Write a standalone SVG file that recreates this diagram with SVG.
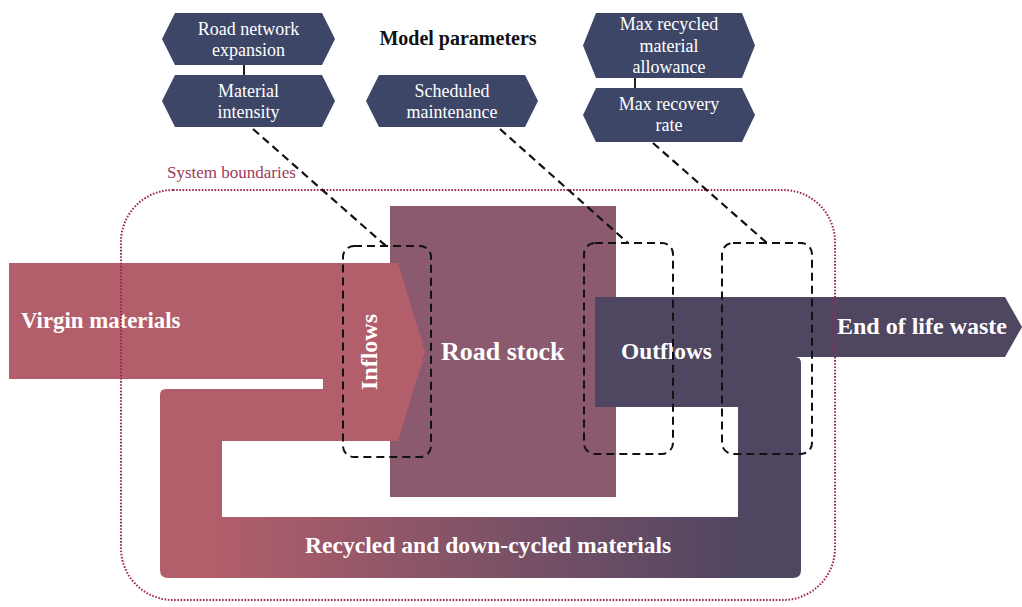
<svg xmlns="http://www.w3.org/2000/svg" width="1022" height="607" viewBox="0 0 1022 607">
  <style>
    .param { fill: #3e4668; }
    .ptext { font-family: "Liberation Serif", "Times New Roman", serif; font-size: 18px; fill: #ffffff; text-anchor: middle; }
    .flowtext { font-family: "Liberation Serif", "Times New Roman", serif; font-weight: bold; fill: #ffffff; }
    .dashbox { fill: none; stroke: #111111; stroke-width: 2; stroke-dasharray: 8 5; }
    .dashline { fill: none; stroke: #111111; stroke-width: 2.2; stroke-dasharray: 8 5; }
    .link { stroke: #222222; stroke-width: 2; }
  </style>
  <defs>
    <linearGradient id="loopGrad" gradientUnits="userSpaceOnUse" x1="210" y1="0" x2="745" y2="0">
      <stop offset="0" stop-color="#b35f6b"/>
      <stop offset="1" stop-color="#4f4662"/>
    </linearGradient>
  </defs>
  <rect width="1022" height="607" fill="#ffffff"/>

  <!-- recycled / down-cycled return loop -->
  <g id="recycled-loop">
    <path d="M160,441 V570 Q160,578 168,578 H793 Q801,578 801,570 V363 Q801,357 795,357 H738 V517 H222 V441 Z" fill="url(#loopGrad)"/>
    <text class="flowtext" x="305" y="553" font-size="23.6">Recycled and down-cycled materials</text>
  </g>

  <!-- stock -->
  <g id="road-stock">
    <rect x="390" y="206" width="226" height="291" fill="#8b5a6f"/>
    <text class="flowtext" x="441" y="360" font-size="26">Road stock</text>
  </g>

  <!-- inflows: virgin materials plus the recycled arm -->
  <g id="inflows">
    <path d="M9,263 H398 L425,352 L398,441 H160 V395 Q160,389 166,389 H323 V379 H9 Z" fill="#b35f6b"/>
    <text class="flowtext" x="21" y="328" font-size="22.8">Virgin materials</text>
  </g>

  <!-- outflows and end of life waste -->
  <g id="outflows">
    <path d="M595,297 H1005 L1022,327 L1005,357 H738 V407 H595 Z" fill="#4f4662"/>
    <text class="flowtext" x="621" y="359" font-size="23.4">Outflows</text>
    <text class="flowtext" x="837" y="334" font-size="24">End of life waste</text>
  </g>

  <!-- system boundary -->
  <g id="system-boundary">
    <rect x="121" y="190" width="714" height="410" rx="52" ry="52" fill="none" stroke="#a0284f" stroke-width="2" stroke-dasharray="1.6 1.6"/>
    <text x="167" y="178" font-family="Liberation Serif, Times New Roman, serif" font-size="17" fill="#a03a5c">System boundaries</text>
  </g>

  <!-- flow control regions -->
  <g id="inflow-region">
    <rect class="dashbox" x="343" y="246" width="88" height="211" rx="11"/>
    <text class="flowtext" font-size="24" text-anchor="middle" transform="translate(377,352) rotate(-90)">Inflows</text>
  </g>
  <g id="outflow-region-stock">
    <rect class="dashbox" x="584" y="243" width="89" height="211" rx="11"/>
  </g>
  <g id="outflow-region-recovery">
    <rect class="dashbox" x="722" y="243" width="90" height="211" rx="11"/>
  </g>

  <!-- model parameters -->
  <text x="458" y="45" font-family="Liberation Serif, Times New Roman, serif" font-size="20" font-weight="bold" fill="#111111" text-anchor="middle">Model parameters</text>

  <g id="road-network-expansion">
    <polygon class="param" points="162,39 175,13 322,13 335,39 322,65 175,65"/>
    <text class="ptext" x="248.5" y="34.5">Road network</text>
    <text class="ptext" x="248.5" y="56">expansion</text>
  </g>
  <g id="material-intensity">
    <polygon class="param" points="162,101 175,75 322,75 335,101 322,127 175,127"/>
    <text class="ptext" x="248.5" y="97">Material</text>
    <text class="ptext" x="248.5" y="118">intensity</text>
  </g>
  <g id="scheduled-maintenance">
    <polygon class="param" points="366,101 379,75 525,75 538,101 525,127 379,127"/>
    <text class="ptext" x="452" y="97">Scheduled</text>
    <text class="ptext" x="452" y="118">maintenance</text>
  </g>
  <g id="max-recycled-allowance">
    <polygon class="param" points="583,45.5 596,13 742,13 755,45.5 742,78 596,78"/>
    <text class="ptext" x="669" y="30">Max recycled</text>
    <text class="ptext" x="669" y="52">material</text>
    <text class="ptext" x="669" y="73">allowance</text>
  </g>
  <g id="max-recovery-rate">
    <polygon class="param" points="583,115 596,88 742,88 755,115 742,142 596,142"/>
    <text class="ptext" x="669" y="110">Max recovery</text>
    <text class="ptext" x="669" y="131">rate</text>
  </g>

  <!-- connectors -->
  <g id="connectors">
    <line class="link" x1="244" y1="65" x2="244" y2="75"/>
    <line class="link" x1="635" y1="78" x2="635" y2="88"/>
    <line class="dashline" x1="253" y1="129" x2="386" y2="246"/>
    <line class="dashline" x1="500" y1="129" x2="628" y2="243"/>
    <line class="dashline" x1="653" y1="143" x2="767" y2="243"/>
  </g>
</svg>
